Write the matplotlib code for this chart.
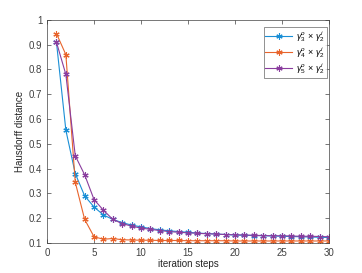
import matplotlib.pyplot as plt
import numpy as np

# iteration steps
steps = np.arange(1, 31)

# Hausdorff distance per iteration
blue = [0.910, 0.555, 0.380, 0.290, 0.245, 0.213, 0.195, 0.182, 0.172, 0.165,
        0.158, 0.153, 0.149, 0.146, 0.143, 0.140, 0.138, 0.136, 0.134, 0.132,
        0.131, 0.130, 0.129, 0.128, 0.127, 0.126, 0.125, 0.124, 0.123, 0.122]
orange = [0.945, 0.860, 0.345, 0.195, 0.125, 0.115, 0.118, 0.113, 0.112, 0.111,
          0.111, 0.110, 0.110, 0.110, 0.109, 0.109, 0.109, 0.109, 0.109, 0.108,
          0.108, 0.108, 0.108, 0.108, 0.108, 0.108, 0.108, 0.108, 0.108, 0.108]
purple = [0.910, 0.780, 0.452, 0.375, 0.275, 0.232, 0.195, 0.178, 0.168, 0.160,
          0.155, 0.150, 0.146, 0.143, 0.141, 0.139, 0.137, 0.136, 0.134, 0.133,
          0.132, 0.131, 0.130, 0.129, 0.129, 0.128, 0.127, 0.127, 0.126, 0.125]

labels = [r'$\gamma_3^o\,\times\,\gamma_2^i$',
          r'$\gamma_4^o\,\times\,\gamma_2^i$',
          r'$\gamma_5^o\,\times\,\gamma_2^i$']
colors = ['#1a8fd6', '#e8642c', '#8a3d9e']

plt.rcParams['font.family'] = ['Liberation Sans', 'DejaVu Sans']
plt.rcParams['mathtext.fontset'] = 'custom'
plt.rcParams['mathtext.rm'] = 'Liberation Sans'
plt.rcParams['mathtext.it'] = 'Liberation Sans:italic'
plt.rcParams['font.size'] = 7
fig = plt.figure(figsize=(3.62, 2.73), dpi=100)
ax = fig.add_axes([0.130, 0.110, 0.779, 0.817])

# matlab style asterisk marker
star = (6, 2, 0)
for ys, lab, c in zip([blue, orange, purple], labels, colors):
    ax.plot(steps, ys, color=c, marker=star, markersize=4.5, markeredgewidth=0.8,
            linewidth=0.8, label=lab)

ax.set_xlim(0, 30)
ax.set_ylim(0.1, 1)
ax.set_xticks(np.arange(0, 31, 5))
ax.set_yticks(np.arange(0.1, 1.01, 0.1))
ax.set_yticklabels(['0.1', '0.2', '0.3', '0.4', '0.5', '0.6', '0.7', '0.8', '0.9', '1'])
ax.tick_params(direction='in', top=True, right=True, length=3, width=0.5,
               colors='#404040', labelsize=7)
for s in ax.spines.values():
    s.set_linewidth(0.5)
    s.set_color('#404040')
ax.set_xlabel('iteration steps', fontsize=7, color='#262626', labelpad=1)
ax.set_ylabel('Hausdorff distance', fontsize=7, color='#262626', labelpad=3)

leg = ax.legend(loc='upper right', fontsize=6.5, frameon=True, fancybox=False,
                edgecolor='#404040', borderpad=0.2, handlelength=2.9, labelspacing=0.15,
                handletextpad=0.5, borderaxespad=0, bbox_to_anchor=(0.993, 0.969))
leg.get_frame().set_linewidth(0.5)

fig.savefig('out.png', dpi=100)
